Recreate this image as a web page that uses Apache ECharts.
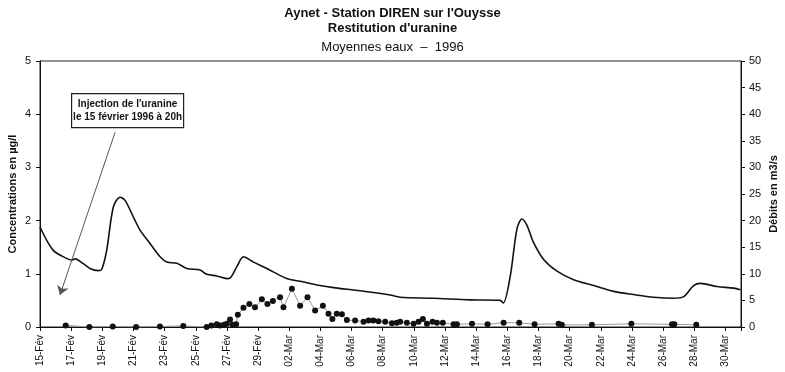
<!DOCTYPE html>
<html><head><meta charset="utf-8">
<script src="https://cdn.jsdelivr.net/npm/echarts@6/dist/echarts.min.js"></script>
<style>html,body{margin:0;padding:0;background:#fff}#c{width:785px;height:372px}</style>
</head><body><div id="c"></div><script>
// Days counted from 15-Fév-1996 00:00
const flowDays = [0, 0.85, 1.71, 2.04, 2.25, 2.78, 3.21, 3.74, 3.96, 4.28, 4.71, 5.14, 5.46, 5.99, 6.42, 7.06, 7.71, 8.14, 8.78, 9.42, 10.28, 10.71, 11.35, 11.99, 12.2, 12.63, 13.06, 13.7, 14.56, 15.84, 16.7, 17.77, 18.84, 20.55, 22.48, 23.12, 25.24, 27.6, 29.54, 29.74, 30.19, 30.62, 30.94, 31.26, 31.68, 32.33, 33.19, 34.25, 35.54, 36.82, 38.11, 39.39, 40.68, 41.32, 41.96, 42.39, 43.46, 44.53, 44.96];
const flowValues = [18.8, 14.4, 12.9, 12.6, 12.8, 11.9, 11.0, 10.6, 10.8, 14.4, 22.6, 24.4, 23.8, 20.7, 18.2, 15.7, 13.2, 12.2, 12.0, 11.0, 10.7, 9.9, 9.6, 9.1, 9.2, 11.3, 13.2, 12.2, 11.0, 9.1, 8.6, 7.9, 7.4, 6.8, 6.0, 5.6, 5.4, 5.1, 5.0, 4.5, 9.6, 18.5, 20.3, 19.1, 15.9, 12.7, 10.5, 8.9, 7.8, 6.7, 6.1, 5.6, 5.4, 5.7, 7.8, 8.2, 7.6, 7.3, 7.0];
const concDays = [1.65, 3.17, 4.67, 6.17, 7.7, 9.2, 10.7, 11.0, 11.35, 11.56, 11.82, 12.0, 12.2, 12.37, 12.59, 12.7, 13.06, 13.44, 13.8, 14.24, 14.6, 14.95, 15.41, 15.63, 16.17, 16.7, 17.17, 17.66, 18.16, 18.52, 18.77, 19.05, 19.38, 19.7, 20.23, 20.77, 21.09, 21.4, 21.73, 22.16, 22.59, 22.9, 23.12, 23.55, 23.98, 24.3, 24.58, 24.84, 25.2, 25.48, 25.86, 26.55, 26.76, 27.73, 28.73, 29.76, 30.76, 31.75, 33.29, 33.5, 35.43, 37.96, 40.57, 40.72, 42.13];
const concValues = [0.03, 0.0, 0.01, 0.0, 0.01, 0.02, 0.0, 0.03, 0.05, 0.03, 0.04, 0.06, 0.14, 0.04, 0.05, 0.23, 0.36, 0.43, 0.37, 0.52, 0.43, 0.49, 0.56, 0.37, 0.72, 0.4, 0.56, 0.31, 0.4, 0.25, 0.15, 0.25, 0.24, 0.13, 0.12, 0.1, 0.12, 0.12, 0.11, 0.1, 0.07, 0.08, 0.1, 0.08, 0.06, 0.1, 0.15, 0.06, 0.1, 0.08, 0.08, 0.05, 0.05, 0.06, 0.05, 0.08, 0.08, 0.05, 0.06, 0.04, 0.04, 0.06, 0.05, 0.05, 0.04];
const monthNames = ['Fév', 'Mar'];
const titleLines = ["Aynet - Station DIREN sur l'Ouysse", "Restitution d'uranine", "Moyennes eaux  –  1996"];
const noteLines = ["Injection de l'uranine", "le 15 février 1996 à 20h"];

const FONT = "'Liberation Sans Narrow', 'Liberation Sans', Arial, sans-serif";
function dayLabel(v) {
  if (v > 44.01) return '';
  const d = 15 + Math.round(v);
  let day, m;
  if (d <= 29) { day = d; m = monthNames[0]; } else { day = d - 29; m = monthNames[1]; }
  return (day < 10 ? '0' + day : '' + day) + '-' + m;
}
const chart = echarts.init(document.getElementById('c'), null, {renderer: 'canvas'});
chart.setOption({
  backgroundColor: '#fff',
  animation: false,
  textStyle: {fontFamily: FONT},
  title: [
    {text: titleLines[0], left: 'center', top: 2, textStyle: {fontFamily: FONT, fontSize: 13, fontWeight: 'bold', color: '#111'}},
    {text: titleLines[1], left: 'center', top: 17, textStyle: {fontFamily: FONT, fontSize: 13, fontWeight: 'bold', color: '#111'}},
    {text: titleLines[2], left: 'center', top: 36, textStyle: {fontFamily: FONT, fontSize: 13, fontWeight: 'normal', color: '#111'}}
  ],
  grid: {left: 40, right: 44, top: 61, bottom: 45, show: true, borderColor: '#222', borderWidth: 1, backgroundColor: 'transparent', outerBoundsMode: 'none', containLabel: false},
  xAxis: {
    type: 'value', min: 0, max: 45, interval: 2,
    axisLine: {show: true, lineStyle: {color: '#111', width: 1}},
    axisTick: {show: true, length: 4, lineStyle: {color: '#111'}},
    splitLine: {show: false},
    axisLabel: {rotate: 90, fontSize: 10, color: '#111', fontFamily: FONT, margin: 8, formatter: dayLabel}
  },
  yAxis: [
    {
      type: 'value', min: 0, max: 5, interval: 1, position: 'left',
      name: 'Concentrations en µg/l', nameLocation: 'middle', nameRotate: 90, nameGap: 22, nameMoveOverlap: false,
      nameTextStyle: {fontFamily: FONT, fontSize: 11, fontWeight: 'bold', color: '#111'},
      axisLine: {show: true, lineStyle: {color: '#111'}},
      axisTick: {show: true, length: 4, lineStyle: {color: '#111'}},
      splitLine: {show: false},
      axisLabel: {fontSize: 11, color: '#111', fontFamily: FONT, margin: 9}
    },
    {
      type: 'value', min: 0, max: 50, interval: 5, position: 'right',
      name: 'Débits en m3/s', nameLocation: 'middle', nameRotate: 90, nameGap: 27, nameMoveOverlap: false,
      nameTextStyle: {fontFamily: FONT, fontSize: 11, fontWeight: 'bold', color: '#111'},
      axisLine: {show: true, lineStyle: {color: '#111'}},
      axisTick: {show: true, length: 4, lineStyle: {color: '#111'}},
      splitLine: {show: false},
      axisLabel: {fontSize: 11, color: '#111', fontFamily: FONT, margin: 8}
    }
  ],
  series: [
    {
      type: 'line', yAxisIndex: 1, smooth: 0.3, symbol: 'none',
      lineStyle: {color: '#111', width: 1.6},
      data: flowDays.map((d, i) => [d, flowValues[i]])
    },
    {
      type: 'line', yAxisIndex: 0, symbol: 'circle', symbolSize: 6,
      itemStyle: {color: '#111'},
      lineStyle: {color: '#999', width: 1},
      data: concDays.map((d, i) => [d, concValues[i]]),
      markLine: {
        silent: true, symbol: ['none', 'arrow'], symbolSize: 9,
        lineStyle: {color: '#555', width: 1, type: 'solid'},
        label: {show: false},
        data: [[{coord: [4.82, 3.66]}, {coord: [1.28, 0.6]}]]
      }
    }
  ],
  graphic: [
    {
      type: 'group', left: 71, top: 93, z: 10,
      children: [
        {type: 'rect', z: 10, shape: {x: 0, y: 0, width: 112, height: 34}, style: {fill: '#fff', stroke: '#222', lineWidth: 1.2}},
        {type: 'text', z: 11, x: 56, y: 4, style: {text: noteLines.join('\n'), fontFamily: FONT, fontSize: 10, fontWeight: 'bold', fill: '#111', lineHeight: 13, align: 'center', verticalAlign: 'top'}}
      ]
    }
  ]
});
</script></body></html>
